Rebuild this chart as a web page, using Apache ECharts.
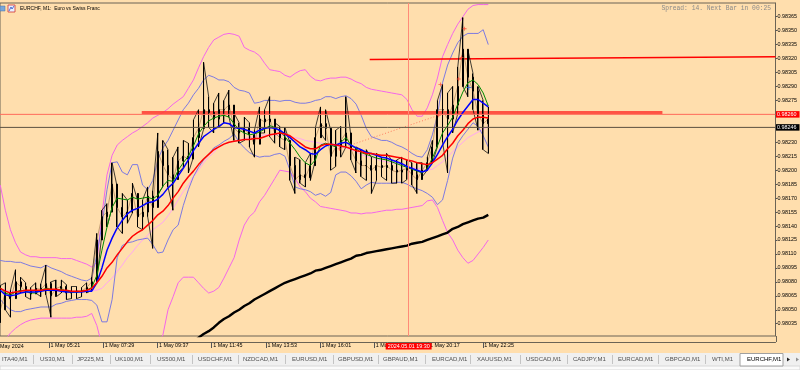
<!DOCTYPE html>
<html><head><meta charset="utf-8">
<script src="https://cdn.jsdelivr.net/npm/echarts@6/dist/echarts.min.js"></script>
<style>html,body{margin:0;padding:0;background:#ffdead;overflow:hidden}#c{width:800px;height:370px}</style>
</head><body><div id="c"></div>
<script>
// ---- time axis (minutes after 1 May 00:00), M1 samples every 12 minutes ----
const sampleStart = 206;
const sampleStep = 12;

// ---- price (EURCHF M1) ----
const priceHigh = [0.98076,0.98079,0.98071,0.98093,0.98085,0.98079,0.98074,0.98079,0.98078,0.98098,
0.98080,0.98082,0.98082,0.98077,0.98075,0.98075,0.98074,0.98079,0.98085,0.98132,
0.98157,0.98164,0.98208,0.98182,0.98175,0.98168,0.98186,0.98168,0.98168,0.98182,
0.98178,0.98240,0.98232,0.98222,0.98214,0.98225,0.98232,0.98229,0.98254,0.98265,
0.98316,0.98279,0.98272,0.98283,0.98275,0.98286,0.98261,0.98251,0.98257,0.98251,
0.98243,0.98268,0.98265,0.98279,0.98251,0.98247,0.98246,0.98229,0.98214,0.98211,
0.98208,0.98218,0.98246,0.98268,0.98265,0.98243,0.98243,0.98247,0.98279,0.98236,
0.98225,0.98222,0.98222,0.98214,0.98218,0.98214,0.98218,0.98211,0.98211,0.98214,
0.98211,0.98208,0.98208,0.98208,0.98214,0.98232,0.98275,0.98292,0.98283,0.98290,
0.98311,0.98364,0.98329,0.98304,0.98290,0.98275,0.98268];
const priceLow = [0.98036,0.98050,0.98042,0.98068,0.98068,0.98064,0.98061,0.98068,0.98064,0.98066,
0.98042,0.98064,0.98068,0.98061,0.98062,0.98062,0.98064,0.98068,0.98071,0.98082,
0.98132,0.98139,0.98160,0.98139,0.98132,0.98143,0.98154,0.98139,0.98136,0.98150,
0.98116,0.98175,0.98182,0.98182,0.98157,0.98197,0.98203,0.98197,0.98214,0.98225,
0.98244,0.98246,0.98240,0.98246,0.98251,0.98257,0.98232,0.98229,0.98232,0.98225,
0.98214,0.98240,0.98240,0.98236,0.98229,0.98225,0.98222,0.98189,0.98175,0.98186,
0.98182,0.98189,0.98211,0.98240,0.98232,0.98200,0.98204,0.98214,0.98225,0.98211,
0.98197,0.98193,0.98189,0.98175,0.98189,0.98193,0.98189,0.98186,0.98186,0.98186,
0.98190,0.98184,0.98175,0.98193,0.98200,0.98208,0.98225,0.98230,0.98197,0.98240,
0.98261,0.98290,0.98279,0.98265,0.98243,0.98222,0.98218];
const priceClose = [0.98050,0.98068,0.98062,0.98080,0.98075,0.98070,0.98067,0.98073,0.98072,0.98078,
0.98065,0.98073,0.98075,0.98068,0.98069,0.98070,0.98070,0.98074,0.98080,0.98125,
0.98150,0.98155,0.98185,0.98160,0.98150,0.98155,0.98175,0.98150,0.98155,0.98172,
0.98160,0.98220,0.98205,0.98195,0.98190,0.98210,0.98215,0.98212,0.98235,0.98245,
0.98265,0.98262,0.98255,0.98265,0.98265,0.98270,0.98245,0.98240,0.98245,0.98238,
0.98228,0.98255,0.98252,0.98255,0.98240,0.98235,0.98232,0.98205,0.98190,0.98195,
0.98192,0.98205,0.98235,0.98250,0.98245,0.98215,0.98225,0.98232,0.98240,0.98222,
0.98210,0.98205,0.98205,0.98200,0.98205,0.98203,0.98205,0.98200,0.98198,0.98200,
0.98202,0.98195,0.98190,0.98200,0.98208,0.98225,0.98265,0.98265,0.98255,0.98270,
0.98290,0.98330,0.98300,0.98285,0.98260,0.98250,0.98255];
const firstOpen = 0.98062;

// ---- moving averages ----
const maRed = [0.98073,0.98070,0.98068,0.98069,0.98070,0.98071,0.98071,0.98071,0.98071,0.98072,
0.98072,0.98072,0.98071,0.98071,0.98070,0.98070,0.98070,0.98071,0.98073,0.98079,
0.98086,0.98095,0.98101,0.98109,0.98116,0.98123,0.98129,0.98133,0.98136,0.98141,
0.98146,0.98152,0.98156,0.98162,0.98170,0.98177,0.98186,0.98193,0.98199,0.98206,
0.98212,0.98217,0.98222,0.98225,0.98228,0.98230,0.98231,0.98232,0.98233,0.98233,
0.98234,0.98234,0.98236,0.98238,0.98239,0.98240,0.98239,0.98237,0.98233,0.98229,
0.98225,0.98223,0.98223,0.98226,0.98228,0.98228,0.98227,0.98226,0.98225,0.98223,
0.98221,0.98220,0.98218,0.98218,0.98217,0.98216,0.98216,0.98215,0.98214,0.98213,
0.98211,0.98210,0.98208,0.98207,0.98206,0.98208,0.98212,0.98216,0.98223,0.98229,
0.98237,0.98243,0.98250,0.98255,0.98257,0.98257,0.98256];
const maBlue = [0.98071,0.98066,0.98065,0.98066,0.98068,0.98069,0.98069,0.98069,0.98070,0.98071,
0.98071,0.98071,0.98070,0.98069,0.98069,0.98069,0.98069,0.98070,0.98070,0.98079,
0.98095,0.98114,0.98127,0.98138,0.98146,0.98153,0.98157,0.98159,0.98162,0.98165,
0.98166,0.98169,0.98174,0.98181,0.98186,0.98194,0.98202,0.98211,0.98221,0.98229,
0.98236,0.98240,0.98244,0.98247,0.98251,0.98250,0.98246,0.98245,0.98244,0.98242,
0.98240,0.98243,0.98245,0.98246,0.98245,0.98243,0.98239,0.98235,0.98230,0.98225,
0.98222,0.98218,0.98217,0.98222,0.98226,0.98228,0.98227,0.98229,0.98230,0.98227,
0.98224,0.98222,0.98219,0.98218,0.98216,0.98214,0.98213,0.98211,0.98209,0.98207,
0.98204,0.98202,0.98200,0.98198,0.98200,0.98208,0.98217,0.98227,0.98236,0.98244,
0.98254,0.98262,0.98269,0.98276,0.98276,0.98272,0.98268];
const maGreen = [0.98074,0.98068,0.98066,0.98069,0.98071,0.98070,0.98068,0.98068,0.98071,0.98073,
0.98072,0.98071,0.98072,0.98070,0.98069,0.98069,0.98070,0.98071,0.98074,0.98087,
0.98114,0.98139,0.98160,0.98170,0.98169,0.98168,0.98171,0.98169,0.98170,0.98171,
0.98169,0.98173,0.98183,0.98189,0.98188,0.98200,0.98208,0.98215,0.98226,0.98239,
0.98247,0.98253,0.98256,0.98258,0.98259,0.98257,0.98250,0.98243,0.98240,0.98238,
0.98239,0.98241,0.98244,0.98248,0.98246,0.98242,0.98236,0.98229,0.98222,0.98214,
0.98208,0.98205,0.98211,0.98227,0.98229,0.98227,0.98225,0.98230,0.98235,0.98227,
0.98223,0.98219,0.98217,0.98215,0.98213,0.98212,0.98211,0.98209,0.98207,0.98205,
0.98203,0.98201,0.98199,0.98197,0.98202,0.98213,0.98226,0.98240,0.98248,0.98257,
0.98271,0.98284,0.98294,0.98297,0.98292,0.98283,0.98269];
const maBlack = [null,null,null,null,null,null,null,null,null,null,
null,null,null,null,null,null,null,null,null,null,
null,null,null,null,null,null,null,null,null,null,
null,null,null,null,null,null,null,null,0.98015,0.98020,
0.98024,0.98027,0.98031,0.98036,0.98040,0.98043,0.98047,0.98050,0.98054,0.98057,
0.98061,0.98064,0.98067,0.98070,0.98073,0.98076,0.98079,0.98081,0.98083,0.98085,
0.98087,0.98089,0.98092,0.98093,0.98095,0.98097,0.98099,0.98101,0.98103,0.98105,
0.98108,0.98109,0.98111,0.98112,0.98113,0.98114,0.98115,0.98116,0.98117,0.98118,
0.98119,0.98121,0.98122,0.98123,0.98125,0.98127,0.98129,0.98131,0.98133,0.98137,
0.98139,0.98142,0.98144,0.98146,0.98148,0.98149,0.98152];

// ---- Bollinger bands ----
const bbBlueUpper = [0.98103,0.98102,0.98102,0.98101,0.98101,0.98099,0.98097,0.98096,0.98095,0.98098,
0.98095,0.98093,0.98091,0.98088,0.98086,0.98084,0.98082,0.98081,0.98084,0.98109,
0.98141,0.98179,0.98208,0.98209,0.98198,0.98195,0.98206,0.98206,0.98184,0.98179,
0.98189,0.98211,0.98224,0.98232,0.98243,0.98254,0.98265,0.98272,0.98281,0.98288,
0.98297,0.98302,0.98300,0.98297,0.98297,0.98295,0.98289,0.98286,0.98285,0.98283,
0.98272,0.98273,0.98275,0.98275,0.98275,0.98274,0.98275,0.98275,0.98273,0.98272,
0.98272,0.98273,0.98275,0.98276,0.98279,0.98279,0.98277,0.98279,0.98280,0.98277,
0.98271,0.98259,0.98245,0.98236,0.98234,0.98232,0.98232,0.98230,0.98227,0.98225,
0.98222,0.98218,0.98215,0.98214,0.98222,0.98238,0.98259,0.98294,0.98313,0.98326,
0.98337,0.98344,0.98347,0.98347,0.98347,0.98351,0.98335];
const bbBlueLower = [0.98061,0.98055,0.98050,0.98048,0.98048,0.98050,0.98051,0.98052,0.98053,0.98053,
0.98053,0.98056,0.98057,0.98059,0.98060,0.98061,0.98061,0.98061,0.98060,0.98055,
0.98037,0.98037,0.98061,0.98106,0.98119,0.98122,0.98123,0.98125,0.98126,0.98127,
0.98120,0.98111,0.98112,0.98125,0.98136,0.98141,0.98162,0.98179,0.98193,0.98203,
0.98211,0.98217,0.98224,0.98227,0.98231,0.98234,0.98239,0.98230,0.98224,0.98219,
0.98216,0.98214,0.98215,0.98215,0.98217,0.98218,0.98215,0.98200,0.98182,0.98180,
0.98179,0.98177,0.98173,0.98175,0.98172,0.98176,0.98195,0.98198,0.98198,0.98194,
0.98188,0.98180,0.98184,0.98187,0.98186,0.98186,0.98186,0.98186,0.98187,0.98187,
0.98185,0.98182,0.98180,0.98178,0.98175,0.98171,0.98163,0.98168,0.98189,0.98213,
0.98229,0.98237,0.98244,0.98251,0.98247,0.98237,0.98225];
const bbPinkUpper = [0.98184,0.98157,0.98136,0.98122,0.98112,0.98109,0.98107,0.98107,0.98106,0.98106,
0.98106,0.98106,0.98105,0.98105,0.98105,0.98103,0.98101,0.98099,0.98096,0.98101,
0.98152,0.98195,0.98216,0.98227,0.98232,0.98236,0.98240,0.98243,0.98247,0.98251,
0.98256,0.98259,0.98262,0.98266,0.98271,0.98275,0.98279,0.98288,0.98297,0.98310,
0.98322,0.98332,0.98340,0.98343,0.98346,0.98347,0.98346,0.98344,0.98332,0.98329,
0.98327,0.98323,0.98315,0.98308,0.98307,0.98306,0.98302,0.98300,0.98304,0.98307,
0.98308,0.98301,0.98297,0.98296,0.98298,0.98299,0.98299,0.98300,0.98300,0.98298,
0.98295,0.98293,0.98289,0.98287,0.98286,0.98285,0.98284,0.98283,0.98282,0.98281,
0.98276,0.98265,0.98258,0.98258,0.98267,0.98281,0.98299,0.98322,0.98335,0.98347,
0.98357,0.98365,0.98373,0.98377,0.98378,0.98378,0.98378];
const bbPinkMiddle = [0.98073,0.98071,0.98070,0.98070,0.98070,0.98070,0.98070,0.98070,0.98070,0.98071,
0.98071,0.98070,0.98070,0.98070,0.98070,0.98070,0.98070,0.98070,0.98071,0.98071,
0.98073,0.98079,0.98084,0.98091,0.98098,0.98106,0.98112,0.98119,0.98125,0.98130,
0.98136,0.98140,0.98144,0.98151,0.98159,0.98168,0.98177,0.98184,0.98193,0.98200,
0.98208,0.98214,0.98219,0.98225,0.98228,0.98230,0.98231,0.98232,0.98234,0.98235,
0.98236,0.98237,0.98238,0.98238,0.98238,0.98238,0.98237,0.98236,0.98235,0.98234,
0.98232,0.98231,0.98230,0.98229,0.98228,0.98227,0.98226,0.98225,0.98224,0.98222,
0.98220,0.98217,0.98215,0.98214,0.98212,0.98210,0.98209,0.98208,0.98207,0.98206,
0.98205,0.98203,0.98202,0.98201,0.98200,0.98201,0.98205,0.98209,0.98214,0.98220,
0.98225,0.98230,0.98235,0.98238,0.98241,0.98244,0.98247];
const bbPinkLower = [0.98009,0.98018,0.98025,0.98030,0.98034,0.98037,0.98039,0.98040,0.98041,0.98041,
0.98041,0.98041,0.98041,0.98041,0.98041,0.98042,0.98042,0.98043,0.98046,0.98033,
0.98012,0.97991,0.97980,0.97969,0.97964,0.97962,0.97964,0.97969,0.97976,0.97985,
0.97998,0.98012,0.98023,0.98050,0.98064,0.98079,0.98085,0.98085,0.98085,0.98079,
0.98073,0.98068,0.98070,0.98074,0.98084,0.98095,0.98106,0.98125,0.98141,0.98150,
0.98155,0.98166,0.98173,0.98182,0.98191,0.98200,0.98199,0.98198,0.98191,0.98182,
0.98177,0.98170,0.98166,0.98161,0.98160,0.98159,0.98158,0.98157,0.98156,0.98154,
0.98154,0.98153,0.98154,0.98154,0.98155,0.98156,0.98157,0.98157,0.98158,0.98158,
0.98159,0.98160,0.98161,0.98162,0.98167,0.98168,0.98160,0.98146,0.98133,0.98125,
0.98114,0.98106,0.98100,0.98103,0.98110,0.98117,0.98125];

// ---- drawn objects (time in minutes, price) ----
const trendThick = [[540, 0.98262], [1769, 0.98262]];
const trendUpper = [[1078, 0.98319], [2036, 0.98322]];
const dottedLine = [[1007, 0.98223], [1241, 0.98259]];
const redMarks = [[1007, 0.98223], [1241, 0.98259], [1245, 0.98292], [1288, 0.98298], [1295, 0.98321], [1302, 0.98352]];
const blueMarks = [[1312, 0.98289]];
const bidPrice = 0.98260;
const crossPrice = 0.98246;
const crossTime = 1170;
const crossTimeLabel = '2024.05.01 19:30';

// ---- axis ticks ----
const yTickValues = [0.98035,0.98050,0.98065,0.98080,0.98095,0.98110,0.98125,0.98140,0.98155,0.98170,
0.98185,0.98200,0.98215,0.98230,0.98245,0.98260,0.98275,0.98290,0.98305,0.98320,0.98335,0.98350,0.98365];
const xTickValues = [321, 449, 577, 705, 833, 961, 1089, 1217, 1345];
const xTickLabels = ['1 May 05:21','1 May 07:29','1 May 09:37','1 May 11:45','1 May 13:53','1 May 16:01','1 May 18:09','1 May 20:17','1 May 22:25'];
const firstDateLabel = '1 May 2024';
const titleText = 'EURCHF, M1:  Euro vs Swiss Franc';
const spreadText = 'Spread: 14. Next Bar in 00:25';
const tabNames = ['ITA40,M1','US30,M1','JP225,M1','UK100,M1','US500,M1','USDCHF,M1','NZDCAD,M1','EURUSD,M1','GBPUSD,M1','GBPAUD,M1','EURCAD,M1','XAUUSD,M1','USDCAD,M1','CADJPY,M1','EURCAD,M1','GBPCAD,M1','WTI,M1','EURCHF,M1'];

// ---- layout ----
const X_MIN = 205.4, X_MAX = 2036;
const Y_MIN = 0.980218, Y_MAX = 0.983797;
const FONT = '"Liberation Sans", Arial, sans-serif';
const tabTextX = [2, 40, 77, 115, 157, 198, 243, 292, 338, 383, 432, 477, 526, 573, 618, 665, 712, 747];
const tabSepX = [33, 72, 110, 150, 192, 238, 285, 333, 378, 425, 470, 520, 567, 612, 658, 705];

const times = priceClose.map((_, i) => sampleStart + i * sampleStep);
const pair = arr => arr.map((v, i) => [times[i], v]);
const candles = priceClose.map((c, i) => [times[i], i === 0 ? firstOpen : priceClose[i - 1], c, priceLow[i], priceHigh[i]]);
// high/low range path: each sample's own low and high, joined in sequence
const rangePath = [];
priceHigh.forEach((h, i) => {
  if (i % 2 === 0) { rangePath.push([times[i], priceLow[i]], [times[i], h]); }
  else { rangePath.push([times[i], h], [times[i], priceLow[i]]); }
});

function line(name, arr, color, width, z, opacity) {
  return { name, type: 'line', data: pair(arr), symbol: 'none', z: z || 2, silent: true,
    lineStyle: { color, width, opacity: opacity == null ? 1 : opacity }, animation: false, connectNulls: false };
}
const lblFont = { fontSize: 5.4, fontFamily: FONT };
function hLine(name, price, color, width, labelBg) {
  return { name, type: 'line', data: [[X_MIN, price], [X_MAX, price]], symbol: 'none', silent: true, z: 6,
    lineStyle: { color, width }, animation: false,
    endLabel: { show: true, formatter: price.toFixed(5), backgroundColor: labelBg, color: '#fff', padding: [1, 3, 0, 1], distance: 0.5, lineHeight: 5.5, ...lblFont } };
}

const chart = echarts.init(document.getElementById('c'), null, { renderer: 'canvas' });

const graphics = [
  { type: 'rect', shape: { x: 0, y: 353, width: 800, height: 13 }, style: { fill: '#f0f0f0' }, silent: true, z: 0 },
  { type: 'rect', shape: { x: 0, y: 366, width: 800, height: 4 }, style: { fill: '#fbfbfb', stroke: '#d8d8d8', lineWidth: 1 }, silent: true },
  { type: 'line', shape: { x1: 776.5, y1: 336, x2: 776.5, y2: 342 }, style: { stroke: '#6b6355', lineWidth: 1 }, silent: true },
  { type: 'text', x: -4.5, y: 344, style: { text: firstDateLabel, fill: '#000', font: '5.4px ' + FONT } , silent: true},
  { type: 'rect', shape: { x: 0, y: 6, width: 5, height: 5 }, style: { fill: '#7aa7d8', stroke: '#4a70a8', lineWidth: 0.5 }, silent: true },
  { type: 'rect', shape: { x: 8, y: 5, width: 7, height: 7 }, style: { fill: '#e8f0ff', stroke: '#d03030', lineWidth: 0.8 }, silent: true },
  { type: 'polyline', shape: { points: [[9, 11], [11, 7], [12, 9], [14, 6]] }, style: { stroke: '#3050c0', lineWidth: 0.8, fill: null }, silent: true },
  { type: 'text', x: 20, y: 6.5, style: { text: titleText, fill: '#000', font: '5px ' + FONT }, silent: true },
  { type: 'text', x: 771, y: 5, style: { text: spreadText, fill: '#8a8a8a', font: '6.3px "Liberation Mono", monospace', align: 'right' }, silent: true },
  { type: 'rect', shape: { x: 740, y: 353.5, width: 43, height: 12.5 }, style: { fill: '#ffffff', stroke: '#a0a0a0', lineWidth: 1 }, silent: true },
  { type: 'polygon', shape: { points: [[790, 359.5], [787, 357.5], [787, 361.5]] }, style: { fill: '#202020' }, silent: true },
  { type: 'polygon', shape: { points: [[796, 357.5], [799, 359.5], [796, 361.5]] }, style: { fill: '#909090' }, silent: true }
];
tabNames.forEach((t, k) => {
  graphics.push({ type: 'text', x: tabTextX[k], y: 356.5, style: { text: t, fill: k === tabNames.length - 1 ? '#000' : '#505050', font: '6px ' + FONT }, silent: true, z: 5 });
});
tabSepX.forEach(x => {
  graphics.push({ type: 'line', shape: { x1: x + 0.5, y1: 355, x2: x + 0.5, y2: 364 }, style: { stroke: '#c4c4c4', lineWidth: 1 }, silent: true });
});

const option = {
  backgroundColor: '#ffdead',
  animation: false,
  grid: { left: 0, right: 24, top: 3, bottom: 34, show: true, borderColor: '#6b6355', borderWidth: 1, backgroundColor: 'transparent' },
  xAxis: {
    type: 'value', min: X_MIN, max: X_MAX, offset: 6,
    axisLine: { show: true, lineStyle: { color: '#6b6355', width: 1 } },
    axisTick: { show: true, customValues: xTickValues, length: 6, lineStyle: { color: '#555' } },
    axisLabel: { customValues: xTickValues, formatter: v => xTickLabels[xTickValues.indexOf(v)], align: 'left', margin: 1.5, color: '#000', padding: [0, 0, 0, 1.5], ...lblFont },
    splitLine: { show: false }
  },
  yAxis: {
    type: 'value', position: 'right', min: Y_MIN, max: Y_MAX, scale: true,
    axisLine: { show: true, lineStyle: { color: '#6b6355', width: 1 } },
    axisTick: { show: true, customValues: yTickValues, length: 2, lineStyle: { color: '#555' } },
    axisLabel: { customValues: yTickValues, formatter: v => v.toFixed(5), margin: 2, color: '#000', ...lblFont },
    splitLine: { show: false }
  },
  graphic: graphics,
  series: [
    line('BB pink upper', bbPinkUpper, '#f466ea', 1, 2),
    line('BB pink lower', bbPinkLower, '#f466ea', 1, 2),
    line('BB pink middle', bbPinkMiddle, '#ffa6f2', 1, 2),
    line('BB blue upper', bbBlueUpper, '#6e6ee6', 0.9, 2),
    line('BB blue lower', bbBlueLower, '#6e6ee6', 0.9, 2),
    line('MA long', maBlack, '#000000', 2.4, 3),
    { name: 'trend thick', type: 'line', data: trendThick, symbol: 'none', silent: true, z: 3,
      lineStyle: { color: '#ff3b30', width: 3, opacity: 0.85 } },
    { name: 'trend upper', type: 'line', data: trendUpper, symbol: 'none', silent: true, z: 3,
      lineStyle: { color: '#ff0000', width: 1.4 } },
    { name: 'measure', type: 'line', data: dottedLine, symbol: 'none', silent: true, z: 3,
      lineStyle: { color: '#ff7c60', width: 1, type: [1, 2] } },
    hLine('bid', bidPrice, '#ff6a5a', 1, '#ff0000'),
    hLine('crosshair', crossPrice, '#5b5040', 1, '#000000'),
    { name: 'price range', type: 'line', data: rangePath, symbol: 'none', silent: true, z: 4,
      lineStyle: { color: '#111', width: 0.8 } },
    { name: 'price', type: 'candlestick', data: candles, encode: { x: 0, y: [1, 2, 3, 4] }, barWidth: 1.5,
      silent: true, z: 4,
      itemStyle: { color: '#000', color0: '#000', borderColor: '#000', borderColor0: '#000', borderWidth: 1 } },
    line('close', priceClose, '#a07850', 0.8, 4, 0.8),
    line('MA green', maGreen, '#008a00', 1, 5),
    line('MA blue', maBlue, '#0000ff', 1.5, 5),
    Object.assign(line('MA red', maRed, '#ff0000', 1.5, 5), {
      markLine: {
        silent: true, symbol: ['none', 'none'], animation: false, z: 6,
        data: [
          { xAxis: crossTime, lineStyle: { color: '#ff8a78', width: 1, type: 'solid' },
            label: { show: true, position: 'start', formatter: crossTimeLabel, backgroundColor: '#ff0000', color: '#fff', padding: [1, 2, 0, 2], distance: 7, lineHeight: 5.5, ...lblFont } }
        ]
      }
    }),
    { name: 'marks', type: 'scatter', data: redMarks, symbol: 'path://M4,0H6V4H10V6H6V10H4V6H0V4H4Z', symbolSize: 4,
      itemStyle: { color: '#ff4030' }, silent: true, z: 7 },
    { name: 'marks2', type: 'scatter', data: blueMarks, symbol: 'path://M4,0H6V4H10V6H6V10H4V6H0V4H4Z', symbolSize: 5,
      itemStyle: { color: '#2060e0' }, silent: true, z: 7 }
  ]
};
chart.setOption(option);
</script></body></html>
